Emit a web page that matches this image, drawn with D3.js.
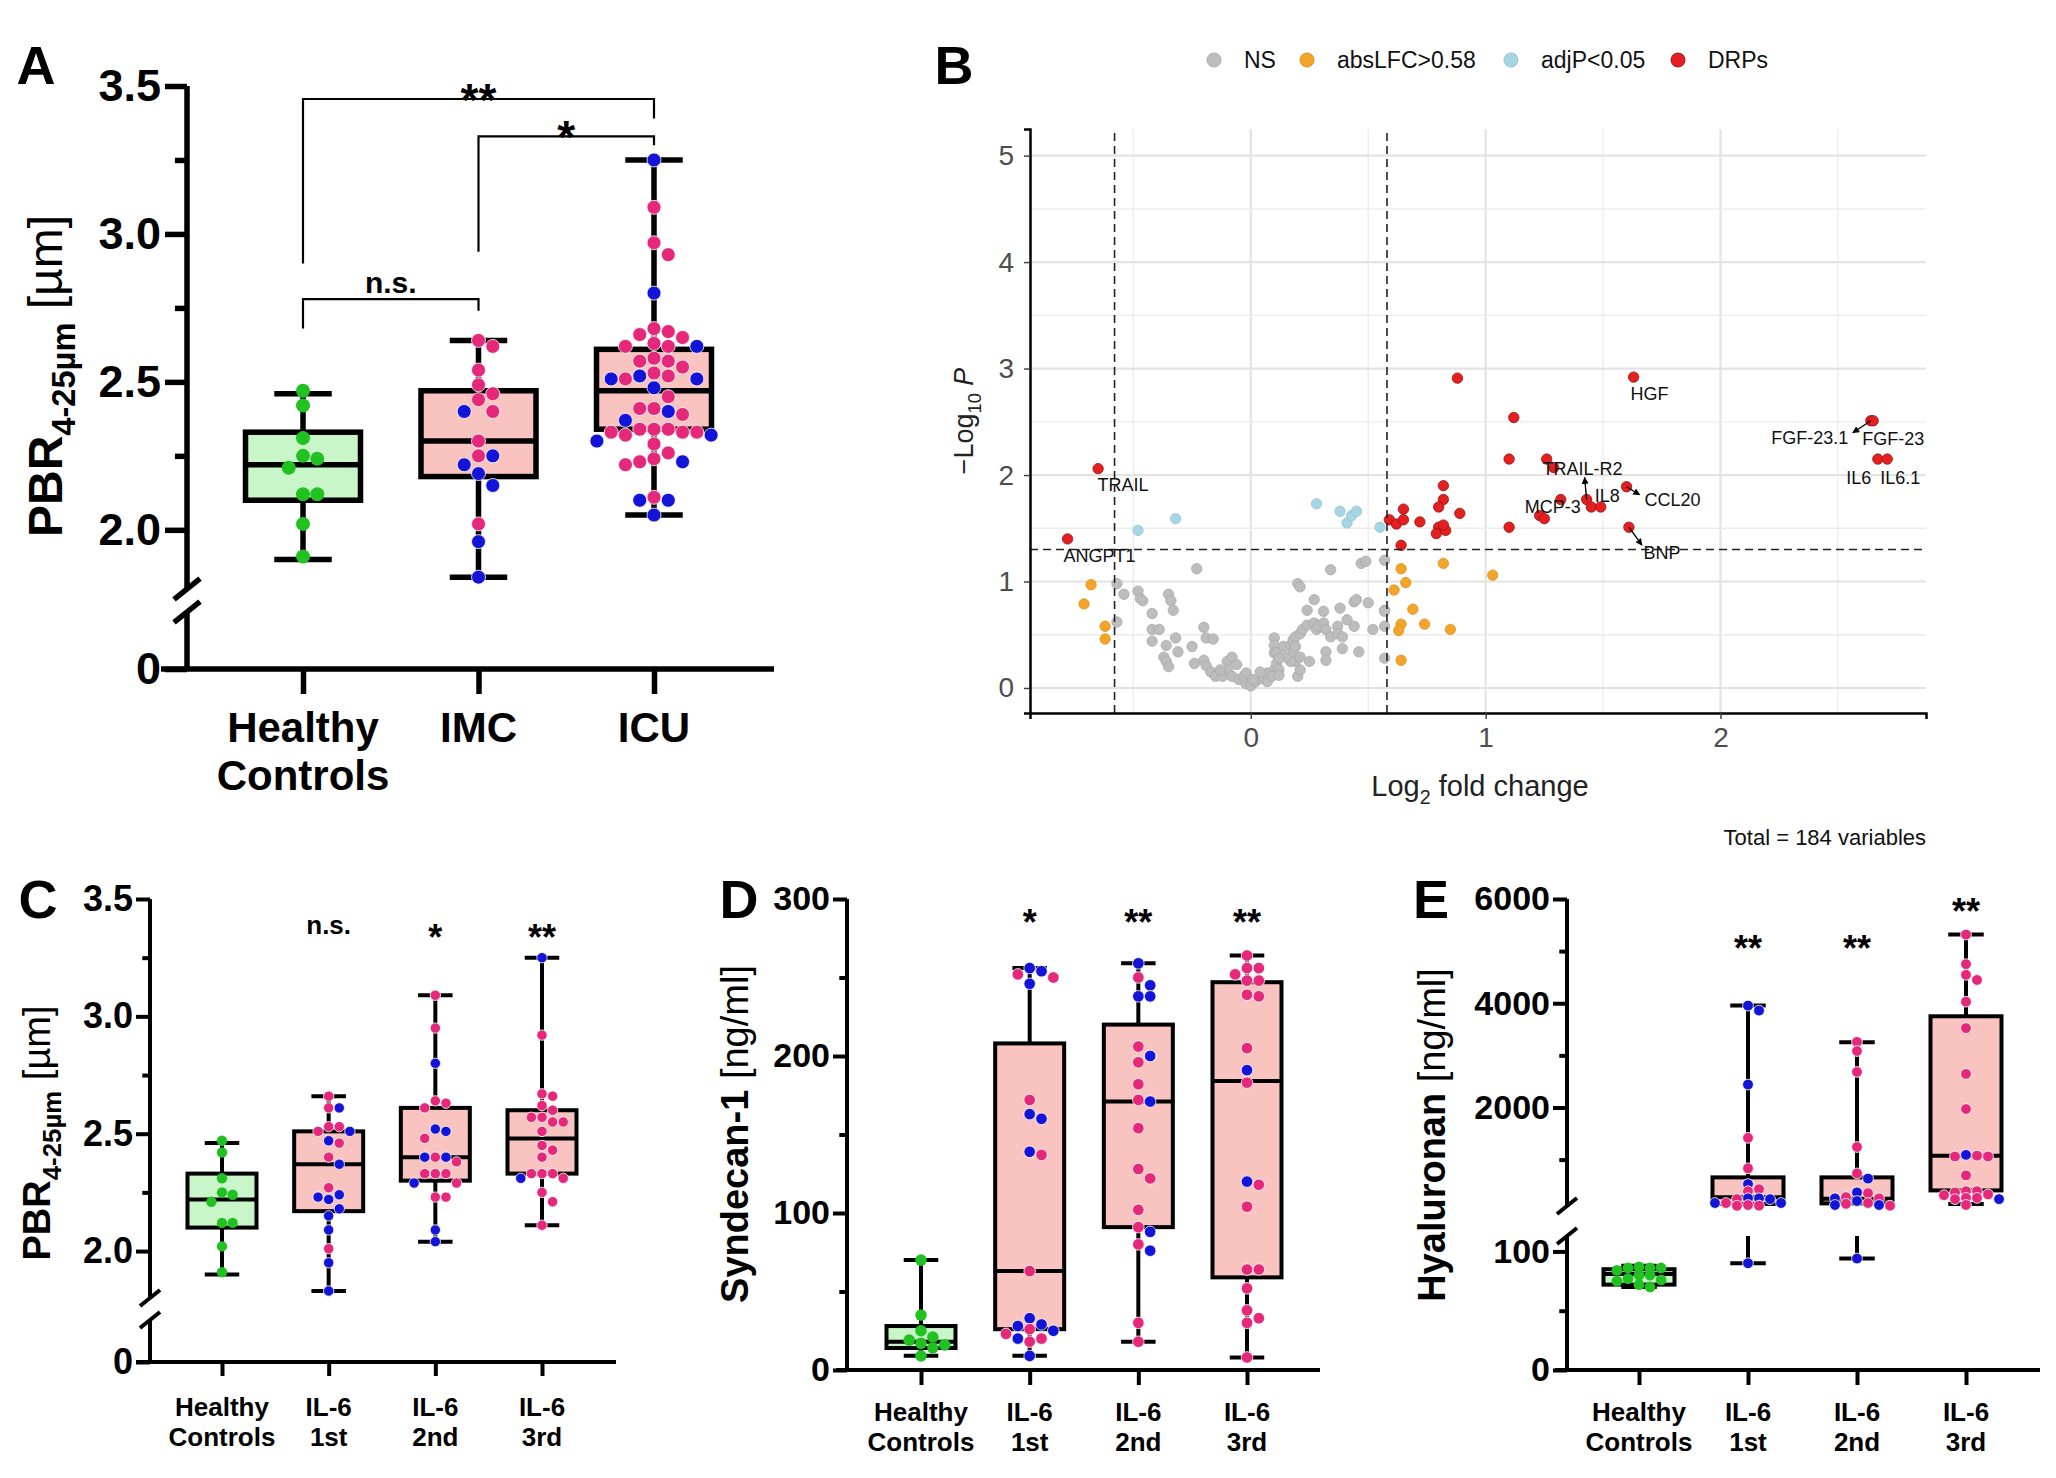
<!DOCTYPE html>
<html>
<head>
<meta charset="utf-8">
<script src="https://cdn.jsdelivr.net/npm/d3@7"></script>
<style>
  body { margin: 0; background: #fff; }
  text { font-family: "Liberation Sans", Arial, sans-serif; }
</style>
</head>
<body>
<svg id="fig" width="2056" height="1478"></svg>
<script>
// ─────────── GROUPS ───────────
const groupsA = ["Healthy Controls", "IMC", "ICU"];
const groupsIL6 = ["Healthy Controls", "IL-6 1st", "IL-6 2nd", "IL-6 3rd"];

// ─────────── PANEL A : PBR by ward ───────────
// box summaries: [min, q1, median, q3, max]
const boxPbrA = [[1.90, 2.10, 2.22, 2.33, 2.46], [1.84, 2.18, 2.30, 2.47, 2.64], [2.05, 2.34, 2.47, 2.61, 3.25]];
const pbrHealthy = [2.47, 2.42, 2.31, 2.25, 2.24, 2.21, 2.12, 2.12, 2.02, 1.91];
const pbrImcPink = [2.64, 2.62, 2.54, 2.49, 2.46, 2.44, 2.40, 2.30, 2.25, 2.02];
const pbrImcBlue = [2.40, 2.25, 2.22, 2.19, 2.15, 1.96, 1.84];
const pbrIcuPink = [3.09, 2.97, 2.93, 2.67, 2.66, 2.68, 2.65, 2.63, 2.62, 2.62, 2.57, 2.58, 2.57, 2.55, 2.53, 2.51, 2.52,
  2.45, 2.41, 2.41, 2.39, 2.33, 2.34, 2.34, 2.33, 2.34, 2.33, 2.32, 2.29, 2.26, 2.22, 2.24, 2.23, 2.11];
const pbrIcuBlue = [3.25, 2.80, 2.62, 2.52, 2.51, 2.51, 2.48, 2.40, 2.37, 2.32, 2.30, 2.23, 2.10, 2.10, 2.05];
// brackets: [from, to, bar value, left leg end, right leg end, label]
const bracketsA = [
  ["Healthy Controls", "ICU", 3.456, 2.90, 3.39, "**"],
  ["IMC", "ICU", 3.33, 2.94, 3.30, "*"],
  ["Healthy Controls", "IMC", 2.78, 2.68, 2.74, "n.s."]
];

// ─────────── PANEL C : PBR by IL-6 tertile ───────────
const boxPbrC = [[1.90, 2.10, 2.22, 2.33, 2.46], [1.83, 2.17, 2.37, 2.51, 2.66], [2.04, 2.30, 2.40, 2.61, 3.09], [2.11, 2.33, 2.48, 2.60, 3.25]];
const pbr1stPink = [2.66, 2.61, 2.53, 2.53, 2.51, 2.46, 2.40, 2.27, 2.01];
const pbr1stBlue = [2.61, 2.51, 2.47, 2.37, 2.24, 2.22, 2.23, 2.18, 2.15, 2.09, 1.95, 1.83];
const pbr2ndPink = [3.09, 2.95, 2.64, 2.63, 2.61, 2.48, 2.40, 2.38, 2.33, 2.33, 2.33, 2.29, 2.23, 2.23];
const pbr2ndBlue = [2.80, 2.51, 2.52, 2.40, 2.40, 2.29, 2.09, 2.04];
const pbr3rdPink = [2.92, 2.67, 2.66, 2.62, 2.60, 2.57, 2.57, 2.55, 2.55, 2.51, 2.45, 2.43, 2.40, 2.33, 2.33, 2.33, 2.31, 2.25, 2.21, 2.11];
const pbr3rdBlue = [3.25, 2.31];
const sigC = [["IL-6 1st", "n.s.", 3.35], ["IL-6 2nd", "*", 3.35], ["IL-6 3rd", "**", 3.35]];

// ─────────── PANEL D : Syndecan-1 ───────────
const boxSdc = [[9, 14, 18, 28, 70], [9, 26, 63, 208, 256], [18, 91, 171, 220, 259], [8, 59, 184, 247, 264]];
const sdcHealthy = [70, 35, 25, 19, 21, 17, 16, 14, 9];
const sdc1stPink = [252, 250, 172, 137, 63, 26, 23, 20, 18];
const sdc1stBlue = [256, 254, 246, 163, 160, 139, 33, 29, 28, 25, 20, 9];
const sdc2ndPink = [250, 206, 196, 182, 172, 154, 128, 122, 102, 91, 80, 30, 18];
const sdc2ndBlue = [259, 245, 238, 238, 200, 171, 88, 76];
const sdc3rdPink = [264, 256, 256, 252, 248, 248, 238, 239, 205, 183, 118, 104, 64, 64, 52, 38, 30, 33, 8];
const sdc3rdBlue = [191, 120];
const sigD = [["IL-6 1st", "*", 287], ["IL-6 2nd", "**", 287], ["IL-6 3rd", "**", 287]];

// ─────────── PANEL E : Hyaluronan ───────────
const boxHya = [[70, 72, 81, 85, 88], [90, 150, 280, 659, 3955], [94, 160, 250, 659, 3250], [150, 409, 1076, 3750, 5318]];
const hyaHealthy = [87, 86, 86, 86, 84, 80, 80, 77, 76, 75, 72, 70];
const hya1stPink = [1417, 833, 432, 394, 242, 167, 115, 129, 118];
const hya1stBlue = [3955, 3860, 2440, 530, 257, 257, 167, 242, 167, 90];
const hya2ndPink = [3258, 3083, 2682, 1242, 735, 356, 280, 257, 167, 152, 115];
const hya2ndBlue = [636, 371, 257, 205, 129, 129, 94];
const hya3rdPink = [5318, 4750, 4545, 4447, 4030, 3523, 2644, 1970, 1076, 1060, 1060, 697, 394, 371, 394, 333, 265, 265, 318, 242, 130];
const hya3rdBlue = [1091, 242];
const sigE = [["IL-6 1st", "**", 5117], ["IL-6 2nd", "**", 5117], ["IL-6 3rd", "**", 5808]];

// ─────────── PANEL B : volcano [log2FC, -log10 P] ───────────
const volcanoNS = [
  [-0.57,0.98],[-0.54,0.88],[-0.48,0.91],[-0.47,0.84],[-0.46,0.82],[-0.35,0.88],[-0.34,0.82],[-0.33,0.73],[-0.42,0.70],
  [-0.57,0.62],[-0.42,0.55],[-0.39,0.55],[-0.20,0.57],[-0.42,0.44],[-0.36,0.40],[-0.32,0.47],[-0.19,0.47],[-0.16,0.46],
  [-0.25,0.39],[-0.31,0.34],[-0.37,0.29],[-0.36,0.25],[-0.35,0.20],[-0.23,1.12],[-0.24,0.23],[-0.20,0.26],[-0.19,0.21],
  [-0.17,0.15],[-0.15,0.11],[-0.12,0.11],[-0.10,0.25],[-0.08,0.29],[-0.10,0.17],[-0.08,0.11],[-0.05,0.08],[-0.02,0.04],
  [0.00,0.02],[0.02,0.06],[0.04,0.09],[0.05,0.11],[0.07,0.14],[0.10,0.17],[0.10,0.47],[0.10,0.40],[0.10,0.33],[0.11,0.23],
  [0.12,0.17],[0.14,0.39],[0.17,0.40],[0.18,0.45],[0.19,0.48],[0.21,0.51],[0.22,0.55],[0.24,0.59],[0.27,0.61],[0.28,0.55],
  [0.29,0.58],[0.31,0.61],[0.32,0.55],[0.34,0.48],[0.24,0.73],[0.27,0.83],[0.31,0.72],[0.38,0.75],[0.44,0.81],[0.45,0.83],
  [0.50,0.80],[0.57,0.73],[0.57,0.58],[0.52,0.55],[0.44,0.58],[0.41,0.64],[0.37,0.58],[0.37,0.51],[0.39,0.48],[0.39,0.37],
  [0.46,0.34],[0.32,0.34],[0.32,0.26],[0.25,0.25],[0.20,0.11],[0.21,0.17],[0.19,0.25],[0.17,0.25],[0.15,0.29],[0.18,0.34],
  [0.20,0.98],[0.21,0.95],[0.34,1.11],[0.47,1.17],[0.49,1.19],[0.57,1.20],[0.57,0.28],[-0.03,0.11],[0.01,0.08],[0.07,0.06],
  [0.09,0.11],[0.12,0.12],[-0.02,0.14],[0.04,0.15],[-0.13,0.17],[-0.06,0.22],[0.11,0.33],[0.12,0.28],[0.19,0.39],[0.21,0.29],
  [0.57,0.72]
];
const volcanoLFC = [[-0.68,0.97],[-0.71,0.79],[-0.62,0.58],[-0.62,0.46],[0.82,1.17],[0.64,1.12],[0.61,0.92],[0.66,0.99],
  [1.03,1.06],[0.69,0.74],[0.64,0.60],[0.63,0.54],[0.74,0.60],[0.85,0.55],[0.64,0.26]];
const volcanoAdjP = [[-0.48,1.48],[-0.32,1.59],[0.28,1.73],[0.38,1.66],[0.41,1.55],[0.43,1.62],[0.45,1.66],[0.55,1.51]];
const volcanoDRP = [[-0.78,1.40],[-0.65,2.06],[0.88,2.91],[1.63,2.92],[1.12,2.54],[2.64,2.51],[2.65,2.51],[2.67,2.15],
  [2.71,2.15],[1.10,2.15],[1.26,2.15],[1.29,2.07],[0.82,1.90],[1.60,1.89],[0.82,1.77],[0.80,1.70],[0.89,1.64],[1.32,1.77],
  [1.43,1.77],[1.45,1.70],[1.49,1.70],[1.23,1.62],[1.25,1.59],[0.65,1.68],[0.59,1.58],[0.62,1.54],[0.65,1.58],[0.72,1.56],
  [0.80,1.51],[0.79,1.45],[0.83,1.48],[0.82,1.53],[1.10,1.51],[1.61,1.51],[0.64,1.34]];
const volcanoLabels = [["TRAIL", -0.65, 2.06], ["ANGPT1", -0.78, 1.40], ["HGF", 1.63, 2.92], ["FGF-23.1", 2.64, 2.51],
  ["FGF-23", 2.65, 2.51], ["IL6", 2.67, 2.15], ["IL6.1", 2.71, 2.15], ["TRAIL-R2", 1.43, 1.77], ["IL8", 1.45, 1.70],
  ["MCP-3", 1.32, 1.77], ["CCL20", 1.60, 1.89], ["BNP", 1.61, 1.51]];
const volcanoLegend = ["NS", "absLFC>0.58", "adjP<0.05", "DRPs"];
const volcanoTotal = 184;

// ─────────── STYLE ───────────
const GREEN = "#22c122", PINK = "#e6287b", BLUE = "#1414d8";
const FILL_GREEN = "#c9f6c9", FILL_PINK = "#f9c4c0";
const svg = d3.select("#fig");

function richText(sel, parts, fs) {
  let shift = 0;
  parts.forEach(p => {
    const t = sel.append("tspan").text(p.t);
    if (p.w) t.attr("font-weight", p.w);
    if (p.i) t.attr("font-style", "italic");
    if (p.sub) { t.attr("font-size", fs * 0.68).attr("dy", fs * 0.28 - shift); shift = fs * 0.28; }
    else if (shift) { t.attr("dy", -shift); shift = 0; }
  });
}

// GraphPad-like scatter: points in roughly the same row are set side by side
function swarm(items, yOf, r, rowH) {
  const D = 2 * r * 1.02, placed = [];
  items.slice().sort((a, b) => yOf(a.v) - yOf(b.v)).forEach(it => {
    const y = yOf(it.v);
    const near = placed.filter(p => Math.abs(p.y - y) < D * rowH);
    const cands = [0];
    near.forEach(p => cands.push(p.x - D, p.x + D));
    cands.sort((a, b) => Math.abs(a) - Math.abs(b) || b - a);
    const x = cands.find(cx => near.every(p => Math.abs(p.x - cx) >= D - 0.01));
    placed.push({ ...it, x, y });
  });
  return placed;
}

// ─────────── GENERIC GRAPHPAD-STYLE BOX PANEL ───────────
function boxPanel(o) {
  const g = svg.append("g");
  const segs = o.segments.map(s => ({ ...s, scale: d3.scaleLinear().domain(s.domain).range(s.range) }));
  const yOf = v => {
    let s = segs.find(s => v >= s.domain[0] && v <= s.domain[1]);
    if (!s) s = v < segs[0].domain[0] ? segs[0] : segs[segs.length - 1];
    return s.scale(Math.max(s.domain[0], Math.min(s.domain[1], v)));
  };
  const vline = (x, a, b, w) => segs.forEach(s => {
    const lo = Math.max(Math.min(a, b), s.domain[0]), hi = Math.min(Math.max(a, b), s.domain[1]);
    if (lo < hi) g.append("line").attr("x1", x).attr("x2", x).attr("y1", s.scale(lo)).attr("y2", s.scale(hi))
      .attr("stroke", "#000").attr("stroke-width", w);
  });
  const xs = d3.scalePoint().domain(o.groups).range(o.xRange);
  const y0 = segs[0].range[0];

  // y axis segments, ticks and break marks
  segs.forEach((s, i) => {
    g.append("line").attr("x1", o.axisX).attr("x2", o.axisX).attr("y1", s.range[0]).attr("y2", s.range[1])
      .attr("stroke", "#000").attr("stroke-width", o.axisW);
    const major = g.append("g").attr("transform", `translate(${o.axisX},0)`)
      .call(d3.axisLeft(s.scale).tickValues(s.ticks).tickFormat(s.fmt).tickSize(o.tickLen).tickPadding(o.tickPad));
    major.select(".domain").remove();
    major.selectAll("line").attr("stroke-width", o.axisW);
    major.selectAll("text").attr("font-size", o.tickFont).attr("font-weight", "bold").attr("fill", "#000")
      .attr("font-family", "Liberation Sans, Arial, sans-serif");
    if (s.minor) {
      const minor = g.append("g").attr("transform", `translate(${o.axisX},0)`)
        .call(d3.axisLeft(s.scale).tickValues(s.minor).tickFormat("").tickSize(o.tickLen * 0.55));
      minor.select(".domain").remove();
      minor.selectAll("line").attr("stroke-width", o.axisW);
    }
    if (i > 0) {
      [s.range[0], segs[i - 1].range[1]].forEach(yb => {
        g.append("line").attr("x1", o.axisX - o.brk).attr("y1", yb + o.brk * 0.8)
          .attr("x2", o.axisX + o.brk).attr("y2", yb - o.brk * 0.8)
          .attr("stroke", "#000").attr("stroke-width", o.axisW);
      });
    }
  });

  // x axis
  g.append("line").attr("x1", o.xExtent[0]).attr("x2", o.xExtent[1]).attr("y1", y0).attr("y2", y0)
    .attr("stroke", "#000").attr("stroke-width", o.axisW);
  const xa = g.append("g").attr("transform", `translate(0,${y0})`)
    .call(d3.axisBottom(xs).tickSize(o.xTickLen).tickFormat(""));
  xa.select(".domain").remove();
  xa.selectAll("line").attr("stroke-width", o.axisW);
  o.groups.forEach(gr => {
    const words = gr.split(" ");
    words.forEach((w, k) => g.append("text").attr("x", xs(gr)).attr("y", o.catY[k]).attr("text-anchor", "middle")
      .attr("font-size", o.catFont).attr("font-weight", "bold").text(w));
  });

  // boxes and whiskers
  o.groups.forEach((gr, i) => {
    const [mn, q1, md, q3, mx] = o.boxes[i];
    const x = xs(gr), bw = o.boxW, cw = bw * 0.5;
    vline(x, q3, mx, o.lineW);
    vline(x, mn, q1, o.lineW);
    [mn, mx].forEach(v => g.append("line").attr("x1", x - cw / 2).attr("x2", x + cw / 2).attr("y1", yOf(v)).attr("y2", yOf(v))
      .attr("stroke", "#000").attr("stroke-width", o.lineW));
    g.append("rect").attr("x", x - bw / 2).attr("y", yOf(q3)).attr("width", bw).attr("height", yOf(q1) - yOf(q3))
      .attr("fill", i === 0 ? FILL_GREEN : FILL_PINK).attr("stroke", "#000").attr("stroke-width", o.lineW);
    g.append("line").attr("x1", x - bw / 2).attr("x2", x + bw / 2).attr("y1", yOf(md)).attr("y2", yOf(md))
      .attr("stroke", "#000").attr("stroke-width", o.lineW);
  });

  // points
  o.groups.forEach((gr, i) => {
    const items = [];
    o.points[i].forEach(([vals, col]) => vals.forEach(v => items.push({ v, col })));
    swarm(items, yOf, o.r, o.rowH).forEach(p => g.append("circle").attr("cx", xs(gr) + p.x).attr("cy", p.y).attr("r", o.r)
      .attr("fill", p.col).attr("stroke", p.col === GREEN ? "none" : "#fff").attr("stroke-width", 0.8));
  });

  // significance
  (o.brackets || []).forEach(([a, b, bar, la, lb, lab]) => {
    const yb = yOf(bar);
    g.append("path").attr("d", `M${xs(a)},${yOf(la)}V${yb}H${xs(b)}V${yOf(lb)}`)
      .attr("fill", "none").attr("stroke", "#000").attr("stroke-width", 2.2);
    const star = lab.includes("*");
    g.append("text").attr("x", (xs(a) + xs(b)) / 2).attr("y", star ? yb + o.starFont * 0.43 - 3 : yb - 6)
      .attr("text-anchor", "middle").attr("font-weight", "bold")
      .attr("font-size", star ? o.starFont : o.nsFont).text(lab);
  });
  (o.sig || []).forEach(([gr, lab, v]) => {
    const star = lab.includes("*");
    g.append("text").attr("x", xs(gr)).attr("y", star ? yOf(v) + o.starFont * 0.43 : yOf(v))
      .attr("text-anchor", "middle").attr("font-weight", "bold")
      .attr("font-size", star ? o.starFont : o.nsFont).text(lab);
  });

  // y title
  const yt = g.append("text").attr("transform", `translate(${o.titleX},${o.titleY}) rotate(-90)`)
    .attr("text-anchor", "middle").attr("font-size", o.titleFont);
  richText(yt, o.title, o.titleFont);

  // panel letter
  g.append("text").attr("x", o.letter[1]).attr("y", o.letter[2]).attr("text-anchor", "middle")
    .attr("font-size", 54).attr("font-weight", "bold").text(o.letter[0]);
}

const fmt1 = d => d === 0 ? "0" : d3.format(".1f")(d);
const pbrTitle = [{ t: "PBR", w: "bold" }, { t: "4-25µm", w: "bold", sub: true }, { t: " [µm]", w: "normal" }];

// A
boxPanel({
  groups: groupsA, xRange: [303, 654], xExtent: [161, 774], axisX: 187,
  segments: [
    { domain: [0, 0.2], range: [669, 612], ticks: [0], fmt: fmt1 },
    { domain: [1.8, 3.5], range: [589, 86], ticks: [2.0, 2.5, 3.0, 3.5], minor: [2.25, 2.75, 3.25], fmt: fmt1 }
  ],
  boxes: boxPbrA,
  points: [[[pbrHealthy, GREEN]], [[pbrImcPink, PINK], [pbrImcBlue, BLUE]], [[pbrIcuPink, PINK], [pbrIcuBlue, BLUE]]],
  brackets: bracketsA,
  axisW: 5.5, lineW: 5.5, tickLen: 22, tickPad: 4, tickFont: 45, xTickLen: 25, brk: 13,
  catFont: 42, catY: [742, 790], boxW: 115, r: 7, rowH: 1.0, starFont: 46, nsFont: 30,
  title: pbrTitle, titleFont: 48, titleX: 62, titleY: 376, letter: ["A", 36, 84]
});

// C
boxPanel({
  groups: groupsIL6, xRange: [222, 542], xExtent: [136, 616], axisX: 150,
  segments: [
    { domain: [0, 0.18], range: [1362, 1320], ticks: [0], fmt: fmt1 },
    { domain: [1.8, 3.5], range: [1298, 899], ticks: [2.0, 2.5, 3.0, 3.5], minor: [2.25, 2.75, 3.25], fmt: fmt1 }
  ],
  boxes: boxPbrC,
  points: [[[pbrHealthy, GREEN]], [[pbr1stPink, PINK], [pbr1stBlue, BLUE]], [[pbr2ndPink, PINK], [pbr2ndBlue, BLUE]], [[pbr3rdPink, PINK], [pbr3rdBlue, BLUE]]],
  sig: sigC,
  axisW: 4, lineW: 4, tickLen: 14, tickPad: 3, tickFont: 36, xTickLen: 14, brk: 10,
  catFont: 26, catY: [1416, 1446], boxW: 69, r: 5.2, rowH: 0.92, starFont: 36, nsFont: 26,
  title: pbrTitle, titleFont: 38, titleX: 50, titleY: 1133, letter: ["C", 38, 918]
});

// D
boxPanel({
  groups: groupsIL6, xRange: [921, 1247], xExtent: [836, 1320], axisX: 847,
  segments: [{ domain: [0, 300], range: [1370, 899], ticks: [0, 100, 200, 300], minor: [50, 150, 250], fmt: d3.format("d") }],
  boxes: boxSdc,
  points: [[[sdcHealthy, GREEN]], [[sdc1stPink, PINK], [sdc1stBlue, BLUE]], [[sdc2ndPink, PINK], [sdc2ndBlue, BLUE]], [[sdc3rdPink, PINK], [sdc3rdBlue, BLUE]]],
  sig: sigD,
  axisW: 4, lineW: 4, tickLen: 14, tickPad: 3, tickFont: 34, xTickLen: 15, brk: 10,
  catFont: 26, catY: [1421, 1451], boxW: 69, r: 5.8, rowH: 0.92, starFont: 36, nsFont: 26,
  title: [{ t: "Syndecan-1", w: "bold" }, { t: " [ng/ml]", w: "normal" }], titleFont: 38, titleX: 748, titleY: 1134,
  letter: ["D", 739, 918]
});

// E
boxPanel({
  groups: groupsIL6, xRange: [1639, 1966], xExtent: [1555, 2040], axisX: 1567,
  segments: [
    { domain: [0, 113], range: [1370, 1236], ticks: [0, 100], minor: [50], fmt: d3.format("d") },
    { domain: [110, 6000], range: [1206, 899], ticks: [2000, 4000, 6000], minor: [1000, 3000, 5000], fmt: d3.format("d") }
  ],
  boxes: boxHya,
  points: [[[hyaHealthy, GREEN]], [[hya1stPink, PINK], [hya1stBlue, BLUE]], [[hya2ndPink, PINK], [hya2ndBlue, BLUE]], [[hya3rdPink, PINK], [hya3rdBlue, BLUE]]],
  sig: sigE,
  axisW: 4, lineW: 4, tickLen: 14, tickPad: 3, tickFont: 34, xTickLen: 15, brk: 10,
  catFont: 26, catY: [1421, 1451], boxW: 71, r: 5.4, rowH: 0.55, starFont: 36, nsFont: 26,
  title: [{ t: "Hyaluronan", w: "bold" }, { t: " [ng/ml]", w: "normal" }], titleFont: 38, titleX: 1445, titleY: 1135,
  letter: ["E", 1431, 918]
});

// ─────────── PANEL B : VOLCANO ───────────
(function () {
  const g = svg.append("g");
  const x = d3.scaleLinear().domain([-0.94, 2.875]).range([1030, 1926]);
  const y = d3.scaleLinear().domain([-0.235, 5.25]).range([713, 129]);
  const [x0, x1] = x.range(), [yb, yt] = y.range();

  // grid
  d3.range(-0.5, 2.6, 0.5).forEach(v => g.append("line").attr("x1", x(v)).attr("x2", x(v)).attr("y1", yb).attr("y2", yt)
    .attr("stroke", Number.isInteger(v) ? "#e3e3e3" : "#ececec").attr("stroke-width", Number.isInteger(v) ? 2.2 : 1.3));
  d3.range(0, 5.1, 0.5).forEach(v => g.append("line").attr("x1", x0).attr("x2", x1).attr("y1", y(v)).attr("y2", y(v))
    .attr("stroke", Number.isInteger(v) ? "#e3e3e3" : "#ececec").attr("stroke-width", Number.isInteger(v) ? 2.2 : 1.3));

  // points
  const layers = [[volcanoNS, "#bdbdbd", "#aaaaaa"], [volcanoLFC, "#f2a52a", "#e0901a"],
    [volcanoAdjP, "#a8d5e4", "#94c4d6"], [volcanoDRP, "#e3201f", "#9c1212"]];
  layers.forEach(([pts, fill, stroke]) => pts.forEach(([lx, ly]) =>
    g.append("circle").attr("cx", x(lx)).attr("cy", y(ly)).attr("r", 5.2)
      .attr("fill", fill).attr("stroke", stroke).attr("stroke-width", 0.8)));

  // thresholds
  [-0.58, 0.58].forEach(v => g.append("line").attr("x1", x(v)).attr("x2", x(v)).attr("y1", yb).attr("y2", yt)
    .attr("stroke", "#222").attr("stroke-width", 1.6).attr("stroke-dasharray", "8,5"));
  g.append("line").attr("x1", x0).attr("x2", x1).attr("y1", y(-Math.log10(0.05))).attr("y2", y(-Math.log10(0.05)))
    .attr("stroke", "#222").attr("stroke-width", 1.6).attr("stroke-dasharray", "8,5");

  // axes
  const ax = g.append("g").attr("transform", `translate(0,${yb})`)
    .call(d3.axisBottom(x).tickValues([0, 1, 2]).tickFormat(d3.format("d")).tickSize(6).tickPadding(8));
  const ay = g.append("g").attr("transform", `translate(${x0},0)`)
    .call(d3.axisLeft(y).tickValues([0, 1, 2, 3, 4, 5]).tickFormat(d3.format("d")).tickSize(6).tickPadding(10));
  [ax, ay].forEach(a => {
    a.select(".domain").attr("stroke", "#000").attr("stroke-width", 2.5);
    a.selectAll(".tick line").attr("stroke", "#444").attr("stroke-width", 1.5);
    a.selectAll("text").attr("font-size", 28).attr("fill", "#4d4d4d").attr("font-family", "Liberation Sans, Arial, sans-serif");
  });

  // labels (ggrepel-like nudges, px)
  const nudge = { "TRAIL": [25, 16], "ANGPT1": [32, 17], "HGF": [16, 16], "FGF-23.1": [-61, 17], "FGF-23": [20, 18],
    "IL6": [-19, 18], "IL6.1": [13, 18], "TRAIL-R2": [-4, -31], "IL8": [16, -11], "MCP-3": [-8, 7], "CCL20": [46, 13], "BNP": [33, 25] };
  const arrows = { "FGF-23.1": [-18, 12], "TRAIL-R2": [-2, -22], "CCL20": [13, 8], "BNP": [13, 18] };
  const defs = svg.append("defs");
  defs.append("marker").attr("id", "arr").attr("viewBox", "0 0 10 10").attr("refX", 9).attr("refY", 5)
    .attr("markerWidth", 5).attr("markerHeight", 5).attr("orient", "auto")
    .append("path").attr("d", "M0,0L10,5L0,10z").attr("fill", "#000");
  volcanoLabels.forEach(([name, lx, ly]) => {
    const px = x(lx), py = y(ly), [dx, dy] = nudge[name];
    if (arrows[name]) g.append("line").attr("x1", px).attr("y1", py)
      .attr("x2", px + arrows[name][0]).attr("y2", py + arrows[name][1])
      .attr("stroke", "#000").attr("stroke-width", 1.4).attr("marker-end", "url(#arr)");
    g.append("text").attr("x", px + dx).attr("y", py + dy + 6.5).attr("text-anchor", "middle")
      .attr("font-size", 18).attr("fill", "#111").text(name);
  });

  // titles
  const xt = g.append("text").attr("x", 1480).attr("y", 796).attr("text-anchor", "middle").attr("font-size", 29).attr("fill", "#222");
  richText(xt, [{ t: "Log" }, { t: "2", sub: true }, { t: " fold change" }], 29);
  const ytt = g.append("text").attr("transform", `translate(973,${(yb + yt) / 2}) rotate(-90)`).attr("text-anchor", "middle")
    .attr("font-size", 27).attr("fill", "#222");
  richText(ytt, [{ t: "−Log" }, { t: "10", sub: true }, { t: " " }, { t: "P", i: true }], 27);
  g.append("text").attr("x", x1).attr("y", 845).attr("text-anchor", "end").attr("font-size", 22).attr("fill", "#111")
    .text(`Total = ${volcanoTotal} variables`);

  // legend
  const legX = [1214, 1307, 1511, 1678];
  volcanoLegend.forEach((lab, i) => {
    g.append("circle").attr("cx", legX[i]).attr("cy", 60).attr("r", 7).attr("fill", layers[i][1]).attr("stroke", layers[i][2]);
    g.append("text").attr("x", legX[i] + 30).attr("y", 68).attr("font-size", 23).attr("fill", "#111").text(lab);
  });

  svg.append("text").attr("x", 954).attr("y", 84).attr("text-anchor", "middle").attr("font-size", 54)
    .attr("font-weight", "bold").text("B");
})();
</script>
</body>
</html>
